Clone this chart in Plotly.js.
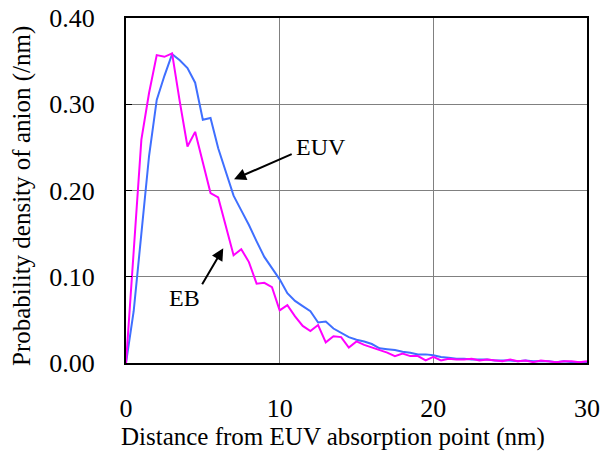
<!DOCTYPE html>
<html>
<head>
<meta charset="utf-8">
<script src="https://cdn.plot.ly/plotly-3.0.1.min.js"></script>
<style>html,body{margin:0;padding:0;background:#fff;}#chart{width:603px;height:454px;}</style>
</head>
<body>
<div id="chart"></div>
<script>
const distance = [0,0.5,1,1.5,2,2.5,3,3.5,4,4.5,5,5.5,6,6.5,7,7.5,8,8.5,9,9.5,10,10.5,11,11.5,12,12.5,13,13.5,14,14.5,15,15.5,16,16.5,17,17.5,18,18.5,19,19.5,20,20.5,21,21.5,22,22.5,23,23.5,24,24.5,25,25.5,26,26.5,27,27.5,28,28.5,29,29.5,30];
const euv = [0,0.06,0.15,0.24,0.305,0.333,0.358,0.351,0.342,0.325,0.282,0.284,0.249,0.222,0.194,0.177,0.160,0.141,0.123,0.110,0.097,0.081,0.072,0.066,0.060,0.047,0.048,0.040,0.035,0.030,0.027,0.025,0.022,0.017,0.016,0.015,0.013,0.012,0.010,0.010,0.009,0.007,0.006,0.005,0.005,0.004,0.004,0.004,0.003,0.003,0.003,0.002,0.003,0.002,0.002,0.002,0.001,0.002,0.001,0.001,0.001];
const eb = [0,0.13,0.259,0.313,0.357,0.355,0.359,0.303,0.251,0.268,0.232,0.197,0.192,0.158,0.125,0.132,0.117,0.092,0.093,0.088,0.061,0.067,0.054,0.043,0.037,0.044,0.024,0.031,0.030,0.018,0.025,0.021,0.018,0.015,0.012,0.008,0.011,0.008,0.008,0.003,0.007,0.003,0.005,0.004,0.004,0.005,0.003,0.004,0.003,0.002,0.004,0.002,0.003,0.001,0.003,0.002,0.001,0.002,0.002,0.001,0.002];
const xTicks = [0,10,20,30];
const yTicks = [0,0.1,0.2,0.3,0.4];
const yTickText = ["0.00","0.10","0.20","0.30","0.40"];
const labels = ["EUV","EB"];
const xTitle = "Distance from EUV absorption point (nm)";
const yTitle = "Probability density of anion (/nm)";

const fam = "'Liberation Serif', 'Times New Roman', serif";
const font = {family: fam, size: 24, color: "#000"};
const tickFont = {family: fam, size: 26, color: "#000"};
const titleFont = {family: fam, size: 25, color: "#000"};

const traces = [
  {x: distance, y: euv, type: "scatter", mode: "lines", name: labels[0], line: {color: "#3F6FFF", width: 2}},
  {x: distance, y: eb, type: "scatter", mode: "lines", name: labels[1], line: {color: "#FF00FF", width: 2}}
];

const layout = {
  width: 603, height: 454,
  margin: {l: 126, r: 16, t: 18, b: 91},
  paper_bgcolor: "#fff", plot_bgcolor: "#fff",
  showlegend: false,
  font: font,
  xaxis: {
    range: [0, 30], tickvals: xTicks, ticktext: xTicks.map(String),
    showgrid: true, gridcolor: "#808080", gridwidth: 1,
    showline: true, linecolor: "#000", linewidth: 2, mirror: true,
    zeroline: false, ticks: "", ticklabelstandoff: 21,
    tickfont: tickFont
  },
  yaxis: {
    range: [0, 0.4], tickvals: yTicks, ticktext: yTickText,
    showgrid: true, gridcolor: "#808080", gridwidth: 1,
    showline: true, linecolor: "#000", linewidth: 2, mirror: true,
    zeroline: false, ticks: "inside", ticklen: 6, tickcolor: "#000", ticklabelstandoff: 24,
    tickfont: tickFont
  },
  annotations: [
    {x: 0.449, y: -0.2145, xref: "paper", yref: "paper", xanchor: "center", yanchor: "middle",
     text: xTitle, showarrow: false, font: titleFont},
    {x: -0.2256, y: 0.484, xref: "paper", yref: "paper", xanchor: "center", yanchor: "middle",
     text: yTitle, textangle: -90, showarrow: false, font: titleFont},
    {x: 7.03, y: 0.213, ax: 10.88, ay: 0.243, axref: "x", ayref: "y", xref: "x", yref: "y",
     showarrow: true, arrowhead: 2, arrowsize: 1.2, arrowwidth: 2, arrowcolor: "#000", text: ""},
    {x: 12.7, y: 0.25, xref: "x", yref: "y", text: labels[0], showarrow: false, font: font},
    {x: 6.33, y: 0.133, ax: 4.9, ay: 0.0896, axref: "x", ayref: "y", xref: "x", yref: "y",
     showarrow: true, arrowhead: 2, arrowsize: 1.2, arrowwidth: 2, arrowcolor: "#000", text: ""},
    {x: 3.8, y: 0.075, xref: "x", yref: "y", text: labels[1], showarrow: false, font: font}
  ]
};

Plotly.newPlot("chart", traces, layout, {staticPlot: true, displayModeBar: false});
</script>
</body>
</html>
